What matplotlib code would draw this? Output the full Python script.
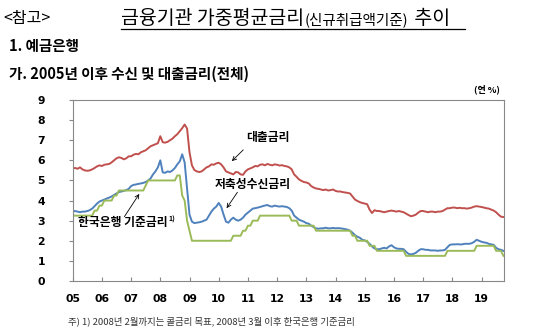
import numpy as np
import matplotlib
matplotlib.use("Agg")
import matplotlib.pyplot as plt
from matplotlib.lines import Line2D

plt.rcParams['font.family'] = ['Noto Sans CJK KR', 'DejaVu Sans']

# monthly, Jan 2005 .. Oct 2019 (% p.a.)
loan_rate = [
    5.60, 5.62, 5.58, 5.65, 5.55, 5.50, 5.48, 5.50, 5.55, 5.62, 5.70, 5.75,  # 2005
    5.72, 5.78, 5.80, 5.82, 5.90, 6.00, 6.10, 6.15, 6.12, 6.05, 6.10, 6.20,  # 2006
    6.20, 6.28, 6.32, 6.30, 6.40, 6.45, 6.50, 6.60, 6.70, 6.75, 6.80, 6.85,  # 2007
    7.20, 6.90, 6.88, 6.92, 7.00, 7.08, 7.20, 7.30, 7.45, 7.60, 7.78, 7.58,  # 2008
    6.40, 5.75, 5.52, 5.45, 5.42, 5.45, 5.55, 5.65, 5.70, 5.80, 5.78, 5.85,  # 2009
    5.88, 5.80, 5.65, 5.45, 5.40, 5.35, 5.30, 5.42, 5.40, 5.30, 5.28, 5.45,  # 2010
    5.55, 5.60, 5.65, 5.72, 5.70, 5.78, 5.80, 5.75, 5.82, 5.78, 5.75, 5.80,  # 2011
    5.78, 5.74, 5.76, 5.72, 5.70, 5.65, 5.55, 5.30, 5.18, 5.05, 4.98, 4.92,  # 2012
    4.90, 4.85, 4.72, 4.65, 4.60, 4.58, 4.55, 4.52, 4.55, 4.50, 4.52, 4.55,  # 2013
    4.48, 4.45, 4.45, 4.42, 4.40, 4.38, 4.35, 4.20, 4.05, 3.98, 3.92, 3.88,  # 2014
    3.85, 3.82, 3.55, 3.38, 3.52, 3.48, 3.48, 3.45, 3.42, 3.45, 3.48, 3.50,  # 2015
    3.48, 3.45, 3.48, 3.45, 3.42, 3.35, 3.28, 3.22, 3.25, 3.30, 3.40, 3.48,  # 2016
    3.48, 3.45, 3.42, 3.45, 3.45, 3.42, 3.45, 3.45, 3.48, 3.55, 3.62, 3.62,  # 2017
    3.65, 3.65, 3.62, 3.64, 3.62, 3.62, 3.60, 3.62, 3.65, 3.70, 3.72, 3.70,  # 2018
    3.68, 3.65, 3.62, 3.60, 3.55, 3.50, 3.42, 3.30, 3.20, 3.18,              # 2019
]

deposit_rate = [
    3.45, 3.48, 3.45, 3.42, 3.45, 3.45, 3.48, 3.52, 3.60, 3.72, 3.85, 3.95,  # 2005
    4.00, 4.05, 4.10, 4.15, 4.20, 4.28, 4.35, 4.42, 4.45, 4.48, 4.52, 4.58,  # 2006
    4.72, 4.78, 4.80, 4.83, 4.85, 4.88, 4.92, 5.00, 5.10, 5.30, 5.45, 5.65,  # 2007
    6.00, 5.40, 5.38, 5.45, 5.42, 5.50, 5.62, 5.80, 5.95, 6.30, 5.90, 4.60,  # 2008
    3.30, 2.95, 2.88, 2.90, 2.92, 2.95, 3.00, 3.05, 3.25, 3.45, 3.60, 3.70,  # 2009
    3.88, 3.70, 3.30, 2.95, 2.90, 3.05, 3.15, 3.05, 3.00, 3.05, 3.15, 3.30,  # 2010
    3.40, 3.50, 3.60, 3.62, 3.65, 3.68, 3.72, 3.75, 3.78, 3.72, 3.70, 3.75,  # 2011
    3.72, 3.70, 3.72, 3.70, 3.68, 3.62, 3.50, 3.25, 3.15, 3.05, 3.00, 2.95,  # 2012
    2.88, 2.85, 2.75, 2.68, 2.62, 2.60, 2.62, 2.62, 2.65, 2.62, 2.62, 2.64,  # 2013
    2.62, 2.63, 2.62, 2.60, 2.58, 2.55, 2.50, 2.40, 2.28, 2.20, 2.15, 2.05,  # 2014
    2.02, 1.95, 1.85, 1.72, 1.62, 1.58, 1.58, 1.62, 1.65, 1.62, 1.72, 1.78,  # 2015
    1.68, 1.62, 1.60, 1.60, 1.58, 1.45, 1.35, 1.32, 1.35, 1.40, 1.50, 1.58,  # 2016
    1.58, 1.55, 1.55, 1.52, 1.52, 1.52, 1.50, 1.52, 1.52, 1.55, 1.68, 1.80,  # 2017
    1.82, 1.82, 1.83, 1.82, 1.82, 1.85, 1.85, 1.85, 1.88, 1.95, 2.05, 2.00,  # 2018
    1.95, 1.92, 1.90, 1.85, 1.82, 1.80, 1.65, 1.58, 1.55, 1.50,              # 2019
]

base_rate = [
    3.25, 3.25, 3.25, 3.25, 3.25, 3.25, 3.25, 3.25, 3.25, 3.50, 3.50, 3.75,  # 2005
    3.75, 4.00, 4.00, 4.00, 4.00, 4.25, 4.25, 4.50, 4.50, 4.50, 4.50, 4.50,  # 2006
    4.50, 4.50, 4.50, 4.50, 4.50, 4.50, 4.75, 5.00, 5.00, 5.00, 5.00, 5.00,  # 2007
    5.00, 5.00, 5.00, 5.00, 5.00, 5.00, 5.00, 5.25, 5.25, 4.25, 4.00, 3.00,  # 2008
    2.50, 2.00, 2.00, 2.00, 2.00, 2.00, 2.00, 2.00, 2.00, 2.00, 2.00, 2.00,  # 2009
    2.00, 2.00, 2.00, 2.00, 2.00, 2.00, 2.25, 2.25, 2.25, 2.25, 2.50, 2.50,  # 2010
    2.75, 2.75, 3.00, 3.00, 3.00, 3.25, 3.25, 3.25, 3.25, 3.25, 3.25, 3.25,  # 2011
    3.25, 3.25, 3.25, 3.25, 3.25, 3.25, 3.00, 3.00, 3.00, 2.75, 2.75, 2.75,  # 2012
    2.75, 2.75, 2.75, 2.75, 2.50, 2.50, 2.50, 2.50, 2.50, 2.50, 2.50, 2.50,  # 2013
    2.50, 2.50, 2.50, 2.50, 2.50, 2.50, 2.50, 2.25, 2.25, 2.00, 2.00, 2.00,  # 2014
    2.00, 2.00, 1.75, 1.75, 1.75, 1.50, 1.50, 1.50, 1.50, 1.50, 1.50, 1.50,  # 2015
    1.50, 1.50, 1.50, 1.50, 1.50, 1.25, 1.25, 1.25, 1.25, 1.25, 1.25, 1.25,  # 2016
    1.25, 1.25, 1.25, 1.25, 1.25, 1.25, 1.25, 1.25, 1.25, 1.25, 1.50, 1.50,  # 2017
    1.50, 1.50, 1.50, 1.50, 1.50, 1.50, 1.50, 1.50, 1.50, 1.50, 1.75, 1.75,  # 2018
    1.75, 1.75, 1.75, 1.75, 1.75, 1.75, 1.50, 1.50, 1.50, 1.25,              # 2019
]

year_ticks = list(range(2005, 2020))
year_labels = ["05", "06", "07", "08", "09", "10", "11", "12", "13", "14",
               "15", "16", "17", "18", "19"]

W, H = 550, 331


def fx(px):
    return px / W


def fy(py):
    return 1 - py / H


fig = plt.figure(figsize=(W / 100, H / 100), dpi=100)
renderer = fig.canvas.get_renderer()
ax = fig.add_axes([fx(72.7), fy(281), fx(504) - fx(72.7), fy(100) - fy(281)])

t = 2005 + np.arange(len(loan_rate)) / 12
ax.plot(t, loan_rate, color="#C0504D", lw=1.4)
ax.plot(t, deposit_rate, color="#4F81BD", lw=1.4)
ax.plot(t, base_rate, color="#9BBB59", lw=1.4)

ax.set_xlim(2005, 2019.77)
ax.set_ylim(0, 9)
ax.set_yticks(range(0, 10))
ax.set_xticks(year_ticks)
ax.set_xticklabels(year_labels)
for lab in ax.get_xticklabels() + ax.get_yticklabels():
    lab.set_family("DejaVu Sans")
    lab.set_fontweight("bold")
    lab.set_fontsize(7.8)
ax.tick_params(axis="x", direction="in", length=3, pad=9, color="#888888")
ax.tick_params(axis="y", direction="out", length=3, pad=17, color="#888888")
for s in ax.spines.values():
    s.set_color("#888888")
    s.set_linewidth(0.8)

# in-chart labels
akw = dict(arrowstyle="->", color="black", lw=0.6, shrinkA=0, shrinkB=0,
           mutation_scale=7)
ax.text(2011.69, 7.16, "대출금리", ha="center", va="center", fontsize=8.5,
        fontweight="bold")
ax.annotate("", xy=(2010.45, 5.96), xytext=(2010.84, 6.52), arrowprops=akw)
ax.text(2011.16, 4.80, "저축성수신금리", ha="center", va="center", fontsize=8.5,
        fontweight="bold")
ax.annotate("", xy=(2010.27, 3.62), xytext=(2010.64, 4.41), arrowprops=akw)
bok = fig.text(fx(78.3), fy(222.7), "한국은행 기준금리", ha="left", va="center",
               fontsize=8.5, fontweight="bold")
bb = bok.get_window_extent(renderer)
fig.text(bb.x1 / W + fx(1), fy(219), "1)", ha="left", va="center", fontsize=5,
         fontweight="bold")
ax.annotate("", xy=(2007.28, 4.33), xytext=(2006.77, 3.20), arrowprops=akw)

# page headings
fig.text(fx(3), fy(19), "<참고>", ha="left", va="center", fontsize=11.5)
x0 = 121
for piece, size, dy in [("금융기관 가중평균금리", 14, 19), ("(신규취급액기준)", 10.5, 20),
                        (" 추이", 14, 19)]:
    tx = fig.text(fx(x0), fy(dy), piece, ha="left", va="center", fontsize=size)
    x0 = tx.get_window_extent(renderer).x1 + 1
fig.add_artist(Line2D([fx(121), fx(465)], [fy(28.5), fy(28.5)], color="black", lw=0.9))
fig.text(fx(9), fy(45.5), "1. 예금은행", ha="left", va="center", fontsize=10.5,
         fontweight="bold")
fig.text(fx(9), fy(74), "가. 2005년 이후 수신 및 대출금리(전체)", ha="left", va="center",
         fontsize=10.5, fontweight="bold")
fig.text(fx(500), fy(89), "(연 %)", ha="right", va="center", fontsize=6.5,
         fontweight="bold")
fig.text(fx(68), fy(321.5),
         "주) 1) 2008년 2월까지는 콜금리 목표, 2008년 3월 이후 한국은행 기준금리",
         ha="left", va="center", fontsize=6.8, color="#333333")

fig.savefig("out.png", dpi=100)
